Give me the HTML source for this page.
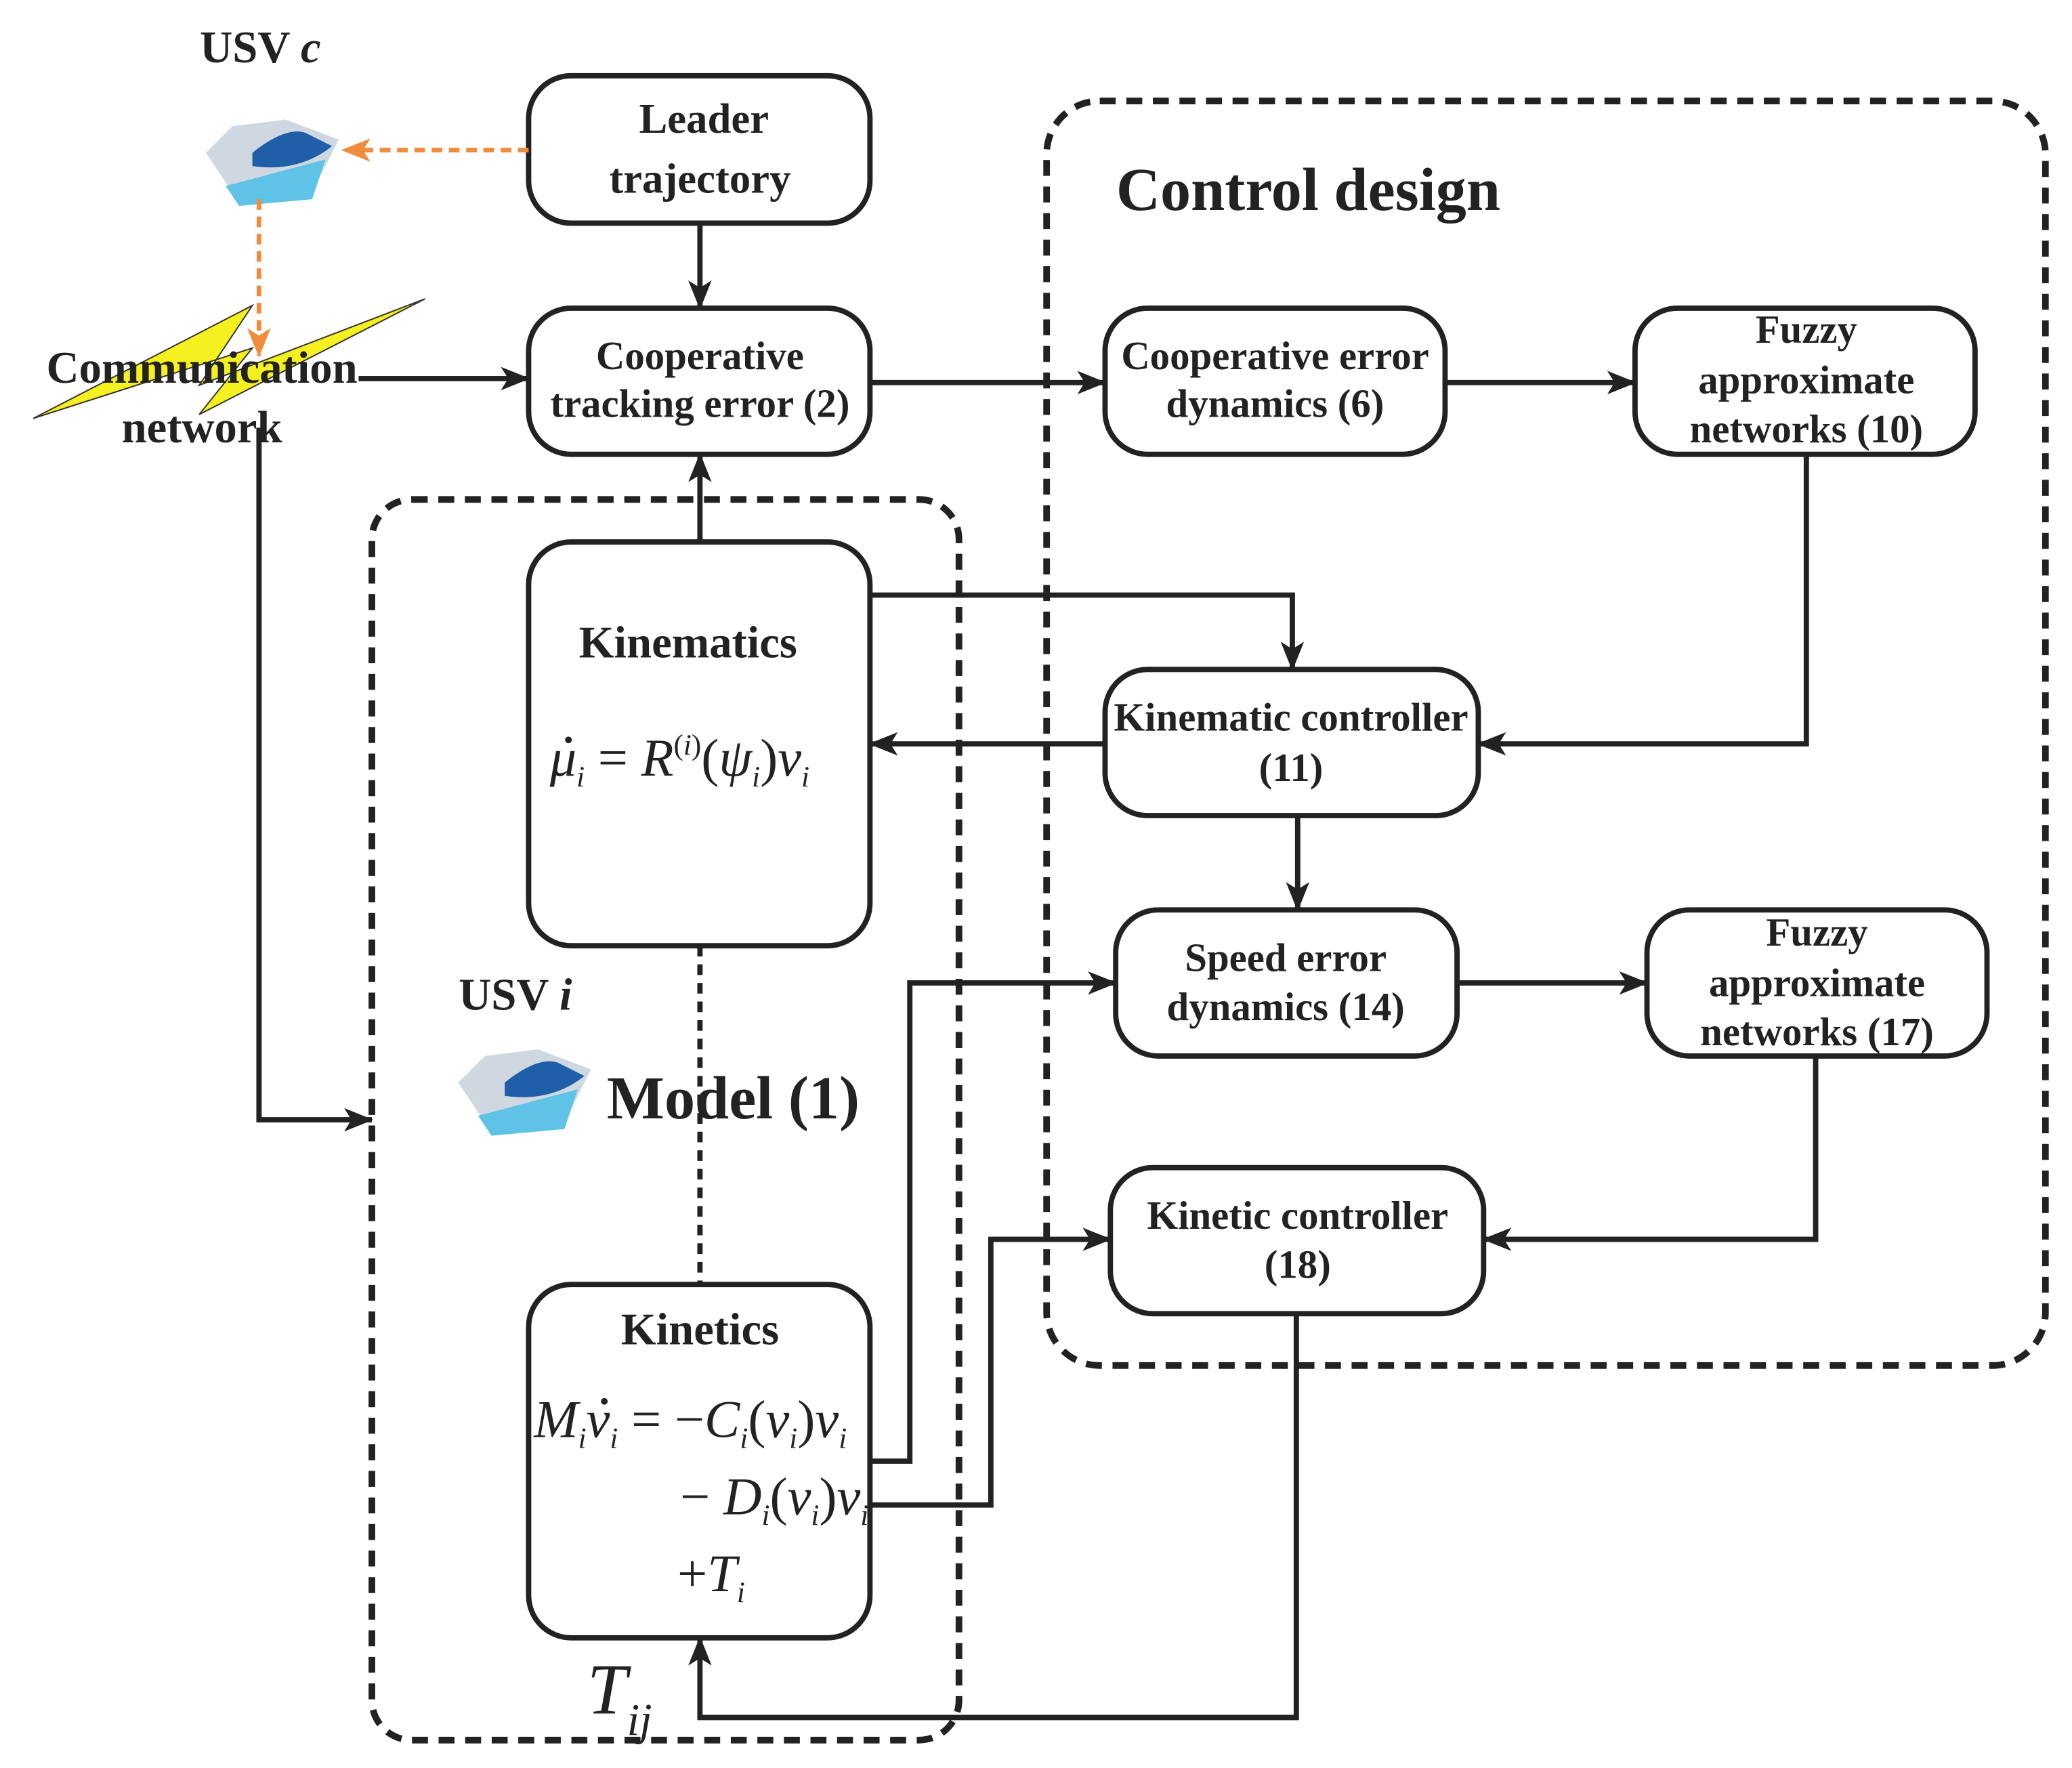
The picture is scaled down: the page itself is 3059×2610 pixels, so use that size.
<!DOCTYPE html>
<html><head><meta charset="utf-8"><style>html,body{margin:0;padding:0;background:#fff}svg{display:block}</style></head><body>
<svg width="3059" height="2610" viewBox="0 0 1560 1331" xmlns="http://www.w3.org/2000/svg" font-family="Liberation Serif, serif" font-weight="bold">
<defs>
<marker id="b" viewBox="0 0 20 16" markerWidth="22" markerHeight="18" refX="19" refY="8" orient="auto" markerUnits="userSpaceOnUse"><path d="M0,0 L20,8 L0,16 L5,8 z" fill="#222"/></marker>
<marker id="o" viewBox="0 0 20 16" markerWidth="22" markerHeight="18" refX="19" refY="8" orient="auto" markerUnits="userSpaceOnUse"><path d="M0,0 L20,8 L0,16 L5,8 z" fill="#f08c3c"/></marker>
</defs>
<rect x="788" y="76" width="752" height="952" rx="40" fill="none" stroke="#222" stroke-width="5" stroke-dasharray="12,8"/>
<rect x="280" y="376" width="442" height="934" rx="30" fill="none" stroke="#222" stroke-width="5" stroke-dasharray="12,8"/>
<g fill="#fff" stroke="#222" stroke-width="4">
<rect x="398" y="57" width="257" height="111" rx="32"/>
<rect x="398" y="232" width="257" height="110" rx="32"/>
<rect x="832" y="232" width="256" height="110" rx="32"/>
<rect x="1231" y="232" width="256" height="110" rx="32"/>
<rect x="398" y="408" width="257" height="304" rx="32"/>
<rect x="832" y="504" width="281" height="110" rx="32"/>
<rect x="840" y="685" width="257" height="110" rx="32"/>
<rect x="1240" y="685" width="256" height="110" rx="32"/>
<rect x="836" y="879" width="281" height="110" rx="32"/>
<rect x="398" y="967" width="257" height="266" rx="32"/>
</g>
<polygon points="25,315 190,230 150,290 320,225 150,312 190,262" fill="#f5f020" stroke="#333" stroke-width="1"/>
<g transform="translate(155,85)"><path d="M0,30 L20,10 L60,5 L100,20 L80,60 L20,60 Z" fill="#cfd8e0"/><path d="M35,30 Q60,10 75,15 L95,25 Q70,45 35,40 Z" fill="#1e5fa8"/><path d="M15,55 L90,35 L80,65 L25,70 Z" fill="#5ec3e6"/></g>
<g transform="translate(345,785)"><path d="M0,30 L20,10 L60,5 L100,20 L80,60 L20,60 Z" fill="#cfd8e0"/><path d="M35,30 Q60,10 75,15 L95,25 Q70,45 35,40 Z" fill="#1e5fa8"/><path d="M15,55 L90,35 L80,65 L25,70 Z" fill="#5ec3e6"/></g>
<g fill="none" stroke="#222" stroke-width="4" marker-end="url(#b)">
<path d="M527,168 V232"/>
<path d="M270,285 H398"/>
<path d="M195,322 V843 H280"/>
<path d="M655,288 H832"/>
<path d="M1088,288 H1231"/>
<path d="M1360,342 V560 H1113"/>
<path d="M527,408 V342"/>
<path d="M655,448 H973 V504"/>
<path d="M832,560 H655"/>
<path d="M977,614 V685"/>
<path d="M1097,740 H1240"/>
<path d="M1367,795 V933 H1117"/>
<path d="M655,1100 H685 V740 H840"/>
<path d="M655,1133 H746 V933 H836"/>
<path d="M976,989 V1293 H527 V1233"/>
</g>
<path d="M527,712 V967" stroke="#222" stroke-width="4" stroke-dasharray="8,6" fill="none"/>
<g fill="none" stroke="#f08c3c" stroke-width="3.5" stroke-dasharray="8,5" marker-end="url(#o)">
<path d="M398,113 H258"/>
<path d="M195,150 V268"/>
</g>
<g font-size="32" text-anchor="middle" fill="#222">
<text x="530" y="100">Leader</text><text x="527" y="145">trajectory</text>
<text x="527" y="278" font-size="30">Cooperative</text><text x="527" y="314" font-size="30">tracking error (2)</text>
<text x="960" y="278" font-size="30">Cooperative error</text><text x="960" y="314" font-size="30">dynamics (6)</text>
<text x="1360" y="258" font-size="30">Fuzzy</text><text x="1360" y="296" font-size="30">approximate</text><text x="1360" y="333" font-size="30">networks (10)</text>
<text x="518" y="495" font-size="34">Kinematics</text>
<text x="972" y="550" font-size="30">Kinematic controller</text><text x="972" y="588" font-size="30">(11)</text>
<text x="968" y="731" font-size="30">Speed error</text><text x="968" y="768" font-size="30">dynamics (14)</text>
<text x="1368" y="712" font-size="30">Fuzzy</text><text x="1368" y="750" font-size="30">approximate</text><text x="1368" y="787" font-size="30">networks (17)</text>
<text x="977" y="925" font-size="30">Kinetic controller</text><text x="977" y="962" font-size="30">(18)</text>
<text x="527" y="1012" font-size="34">Kinetics</text>
<text x="985" y="158" font-size="46">Control design</text>
<text x="552" y="842" font-size="46">Model (1)</text>
<text x="196" y="47" font-size="34">USV <tspan font-style="italic">c</tspan></text>
<text x="388" y="760" font-size="34">USV <tspan font-style="italic">i</tspan></text>
<text x="152" y="288" font-size="34">Communication</text><text x="152" y="333" font-size="34">network</text>
</g>
<g font-weight="normal" font-style="italic" font-size="40" fill="#222">
<text x="414" y="584">μ<tspan font-size="22" dy="8">i</tspan><tspan dy="-8" font-style="normal"> = </tspan>R<tspan font-size="22" dy="-16" font-style="normal">(</tspan><tspan font-size="22">i</tspan><tspan font-size="22" font-style="normal">)</tspan><tspan dy="16" font-style="normal">(</tspan>ψ<tspan font-size="22" dy="8">i</tspan><tspan dy="-8" font-style="normal">)</tspan>ν<tspan font-size="22" dy="8">i</tspan></text>
<text x="402" y="1082">M<tspan font-size="22" dy="8">i</tspan><tspan dy="-8">ν</tspan><tspan font-size="22" dy="8">i</tspan><tspan dy="-8" font-style="normal"> = −</tspan>C<tspan font-size="22" dy="8">i</tspan><tspan dy="-8" font-style="normal">(</tspan>ν<tspan font-size="22" dy="8">i</tspan><tspan dy="-8" font-style="normal">)</tspan>ν<tspan font-size="22" dy="8">i</tspan></text>
<text x="512" y="1140"><tspan font-style="normal">− </tspan>D<tspan font-size="22" dy="8">i</tspan><tspan dy="-8" font-style="normal">(</tspan>ν<tspan font-size="22" dy="8">i</tspan><tspan dy="-8" font-style="normal">)</tspan>ν<tspan font-size="22" dy="8">i</tspan></text>
<text x="510" y="1198"><tspan font-style="normal">+</tspan>T<tspan font-size="22" dy="8">i</tspan></text>
<text x="442" y="1290" font-size="54">T<tspan font-size="34" dy="16">ij</tspan></text>
</g>
<circle cx="428" cy="557" r="2.5" fill="#222"/>
<circle cx="455" cy="1055" r="2.5" fill="#222"/>
</svg>
</body></html>
